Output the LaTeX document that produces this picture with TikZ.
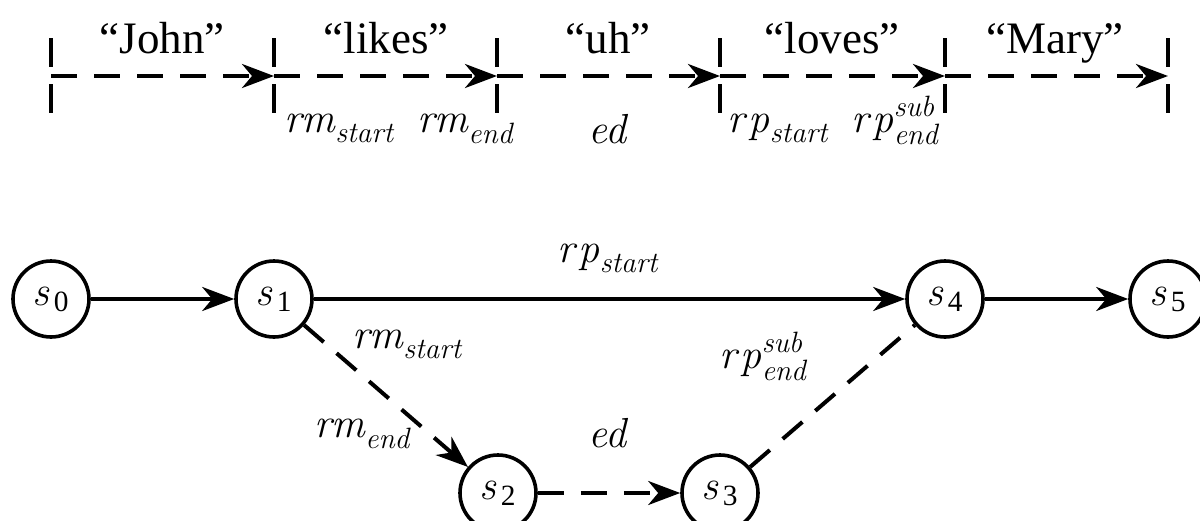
\documentclass[tikz,border=0pt]{standalone}
\usepackage{amsmath}
\usepackage{fontspec}
\setmainfont{Liberation Serif}
\usetikzlibrary{arrows.meta}
\newcommand{\lmit}{\fontfamily{lmr}\fontshape{it}\selectfont}
\newcommand{\lbl}[3]{{\fontsize{21}{25}\selectfont$\text{\lmit #1}_{\text{\lmit #2}}^{\text{\lmit #3}}$}}
\newcommand{\stt}[1]{{\fontsize{21}{25}\selectfont$\text{\lmit s}_{\,\textup{#1}}$}}
\begin{document}
\begin{tikzpicture}[x=0.5pt,y=-0.5pt,
  every node/.style={font=\fontsize{22.5}{27}\selectfont, inner sep=0pt},
  tip/.style={-{Stealth[length=16pt,width=12pt,inset=5pt]}},
  ln/.style={line width=2pt},
  dsh/.style={ln, dash pattern=on 13pt off 8.5pt},
  tickmark/.style={line width=2pt},
  state/.style={circle, draw, line width=1.8pt, minimum size=38pt, inner sep=0pt},
  word/.style={anchor=base},
  lab/.style={anchor=base west}]
\useasboundingbox (0,0) rectangle (1200,520);
% timeline
\foreach \i/\x in {0/51,1/274,2/497,3/720,4/945,5/1168}{
  \coordinate (t\i) at (\x,76);
  \draw[tickmark] (\x,38) -- (\x,67) (\x,84) -- (\x,113);
}
\foreach \a/\b in {0/1,1/2,2/3,3/4,4/5}{
  \draw[dsh,tip] (t\a) -- (t\b);
}
\node[word] (w1) at (162,53) {“John”};
\node[word] (w2) at (386,53) {“likes”};
\node[word] (w3) at (608,53) {“uh”};
\node[word] (w4) at (832,53) {“loves”};
\node[word] (w5) at (1055,53) {“Mary”};
\node[lab] (l1) at (284,132) {\lbl{rm}{start}{}};
\node[lab] (l2) at (417,132) {\lbl{rm}{end}{}};
\node[anchor=base] (l3) at (608,143) {\lbl{ed}{}{}};
\node[lab] (l4) at (727,132) {\lbl{r\kern2pt p}{start}{}};
\node[lab] (l5) at (851,132) {\lbl{r\kern2pt p}{end}{sub}};
% graph
\node[state] (s0) at (51,299) {\stt{0}};
\node[state] (s1) at (274,299) {\stt{1}};
\node[state] (s2) at (498,493) {\stt{2}};
\node[state] (s3) at (720,493) {\stt{3}};
\node[state] (s4) at (945,299) {\stt{4}};
\node[state] (s5) at (1168,299) {\stt{5}};
\draw[ln,tip] (s0) -- (s1);
\draw[ln,tip] (s1) -- (s4);
\draw[ln,tip] (s4) -- (s5);
\draw[dsh,tip] (s1) -- (s2);
\draw[dsh,tip] (s2) -- (s3);
\draw[dsh] (s3) -- (s4);
\node[anchor=base] (e1) at (608,262) {\lbl{r\kern2pt p}{start}{}};
\node[lab] (e2) at (352,348) {\lbl{rm}{start}{}};
\node[lab] (e3) at (314,437) {\lbl{rm}{end}{}};
\node[anchor=base] (e4) at (608,447) {\lbl{ed}{}{}};
\node[lab] (e5) at (719,368) {\lbl{r\kern2pt p}{end}{sub}};
\end{tikzpicture}
\end{document}
